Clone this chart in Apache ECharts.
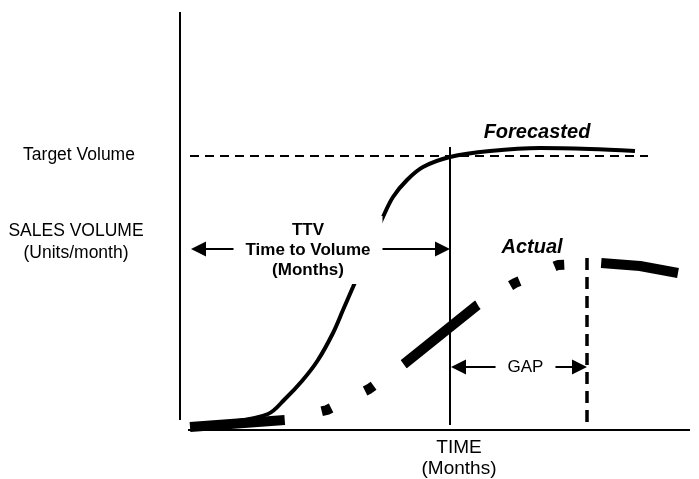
<!DOCTYPE html>
<html><head><meta charset="utf-8">
<script src="https://cdn.jsdelivr.net/npm/echarts@6/dist/echarts.min.js"></script>
<style>html,body{margin:0;padding:0;background:#fff}#c{width:699px;height:479px}</style>
</head><body><div id="c"></div>
<script>
// ---- Data (time in months, volume in units/month; conceptual scale) ----
const forecastTime   = [1.0, 5.0, 8.8, 10.5, 12.2, 13.8, 15.3, 16.3, 17.3, 18.2, 19.2, 20.3, 21.3, 22.7, 24.3, 27.0, 31.0, 36.0, 41.0, 45.5];
const forecastVolume = [0.5, 0.8, 1.6, 3.1, 4.9, 7.0, 9.7, 12.0, 14.3, 16.4, 18.8, 21.3, 23.3, 25.0, 26.3, 27.3, 27.9, 28.2, 28.1, 27.9];

const actualTime   = [1.0, 10.5, 14.7, 18.9, 22.4, 29.75, 33.5, 37.8, 42.0, 46.0, 49.8];
const actualVolume = [0.3, 1.0, 2.0, 4.1, 6.6, 12.5, 14.7, 16.5, 16.7, 16.4, 15.7];

const targetVolume = 27.4;
const targetTime   = [1.0, 46.8];

const ttvTime      = 27.0;            // time to volume
const ttvVolume    = [0.5, 28.3];
const gapEndTime   = 40.7;            // actual reaches volume
const gapEndVolume = [17.2, 0];

const yAxisTime = [0, 0];     const yAxisVolume = [1.0, 41.8];
const xAxisTime = [0.8, 51];  const xAxisVolume = [0, 0];

const ttvArrowTime = [1.1, 27.0]; const ttvArrowVolume = 18.1;
const gapArrowTime = [27.1, 40.7]; const gapArrowVolume = 6.3;

const noteLabels = ['Forecasted', 'Actual', 'TTV\nTime to Volume\n(Months)', 'GAP'];
const noteTime   = [35.7, 35.2, 12.8, 34.55];
const noteVolume = [29.8, 18.3, 18.0, 6.3];

const sideLabels = ['Target Volume', 'SALES VOLUME', '(Units/month)', 'TIME', '(Months)'];

// ---- Helpers ----
const zip = (xs, ys) => xs.map((x, i) => [x, Array.isArray(ys) ? ys[i] : ys]);
const FONT = "'Liberation Sans', Arial, sans-serif";
const HEAD = 0.75; // half arrow-head length in data units
const arrowSeg = (t, v) => [{coord: [t[0] + HEAD, v]}, {coord: [t[1] - HEAD, v]}];

const noteStyles = [
  {fontSize: 20, fontWeight: 'bold', fontStyle: 'italic'},
  {fontSize: 20, fontWeight: 'bold', fontStyle: 'italic'},
  {fontSize: 17, fontWeight: 'bold', lineHeight: 20, backgroundColor: '#ffffff', padding: [4, 12]},
  {fontSize: 17, backgroundColor: '#ffffff', padding: [2, 12]}
];

const plainLine = (name, data, lineStyle, z) => ({
  name, type: 'line', data, symbol: 'none', clip: false, silent: true, z: z || 2,
  lineStyle: Object.assign({color: '#000', width: 2, cap: 'butt', opacity: 1}, lineStyle)
});

const chart = echarts.init(document.getElementById('c'), null, {renderer: 'canvas'});
chart.setOption({
  animation: false,
  backgroundColor: '#fff',
  grid: {left: 180, right: 9, top: 10, bottom: 49},
  xAxis: {type: 'value', min: 0, max: 51, axisLine: {show: false}, axisTick: {show: false}, axisLabel: {show: false}, splitLine: {show: false}},
  yAxis: {type: 'value', min: 0, max: 42, axisLine: {show: false}, axisTick: {show: false}, axisLabel: {show: false}, splitLine: {show: false}},
  series: [
    plainLine('yAxisLine', zip(yAxisTime, yAxisVolume), {width: 2}),
    plainLine('xAxisLine', zip(xAxisTime, xAxisVolume), {width: 2}),
    plainLine('Target', zip(targetTime, targetVolume), {width: 2, type: [9, 6]}),
    Object.assign(plainLine('TTV', zip([ttvTime, ttvTime], ttvVolume), {width: 2}), {
      markLine: {
        silent: true, animation: false,
        symbol: ['triangle', 'triangle'], symbolSize: 15,
        label: {show: false},
        lineStyle: {color: '#000', width: 2, type: 'solid', opacity: 1},
        itemStyle: {color: '#000'},
        data: [arrowSeg(ttvArrowTime, ttvArrowVolume), arrowSeg(gapArrowTime, gapArrowVolume)]
      }
    }),
    plainLine('GapEnd', zip([gapEndTime, gapEndTime], gapEndVolume), {width: 3.5, type: [12, 7]}),
    Object.assign(plainLine('Forecasted', zip(forecastTime, forecastVolume), {width: 4}, 3), {smooth: 0.35}),
    Object.assign(plainLine('Actual', zip(actualTime, actualVolume), {width: 10, type: [95, 38, 10, 38, 10, 37], dashOffset: 0}, 3), {smooth: false}),
    {
      name: 'notes', type: 'scatter', symbolSize: 0, silent: true, z: 10, clip: false,
      itemStyle: {opacity: 1, color: '#000'},
      data: noteLabels.map((t, i) => ({
        value: [noteTime[i], noteVolume[i]],
        label: Object.assign({show: true, position: 'inside', formatter: t, color: '#000', opacity: 1, fontFamily: FONT, align: 'center', verticalAlign: 'middle'}, noteStyles[i])
      }))
    }
  ],
  graphic: [
    {type: 'text', x: 79, y: 155, style: {text: sideLabels[0], align: 'center', verticalAlign: 'middle', font: '17.5px ' + FONT, fill: '#000'}},
    {type: 'text', x: 76, y: 231, style: {text: sideLabels[1], align: 'center', verticalAlign: 'middle', font: '17.5px ' + FONT, fill: '#000'}},
    {type: 'text', x: 76, y: 253, style: {text: sideLabels[2], align: 'center', verticalAlign: 'middle', font: '17.5px ' + FONT, fill: '#000'}},
    {type: 'text', x: 459, y: 448, style: {text: sideLabels[3], align: 'center', verticalAlign: 'middle', font: '19px ' + FONT, fill: '#000'}},
    {type: 'text', x: 459, y: 469, style: {text: sideLabels[4], align: 'center', verticalAlign: 'middle', font: '19px ' + FONT, fill: '#000'}}
  ]
});
</script></body></html>
